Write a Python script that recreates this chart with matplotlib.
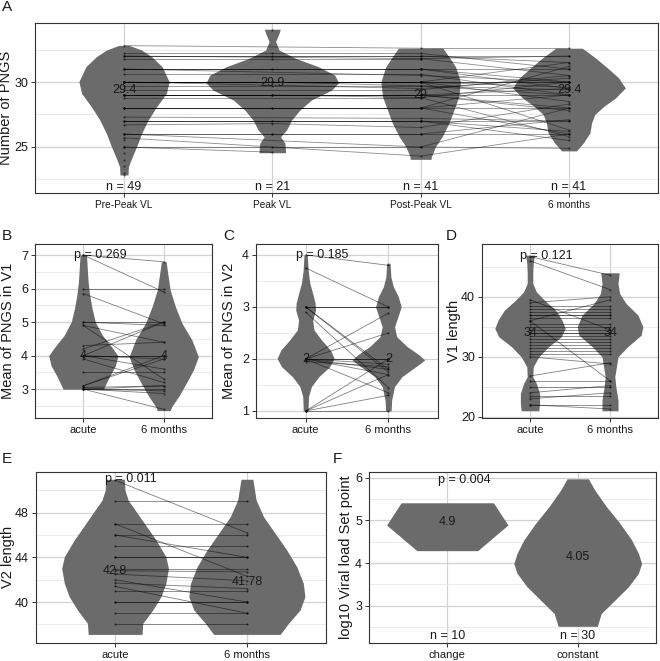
import numpy as np
import matplotlib.pyplot as plt

plt.rcParams['font.family'] = ['Liberation Sans', 'DejaVu Sans']

W, H = 660, 661
VIOLIN = '#6b6b6b'
INK = '#1a1a1a'

# ---------------- panel A: four time points ----------------
A_CATS = ['Pre-Peak VL', 'Peak VL', 'Post-Peak VL', '6 months']
A_N = ['n = 49', 'n = 21', 'n = 41', 'n = 41']
A_CENTER = [29.4, 29.9, 29, 29.4]
A_CENTER_TXT = ['29.4', '29.9', '29', '29.4']

# subject values: pre, peak, post, 6 months (nan = not sampled)
nan = np.nan
A_PRE = [32.8, 32.2, 32.0, 32.0, 32.0, 31.8, 31.0, 31.0, 31.0, 31.0, 30.6, 30.0, 30.0,
         30.0, 30.0, 30.0, 30.0, 30.0, 30.0, 29.7, 29.4, 29.0, 29.0, 29.0, 29.0, 29.0,
         28.8, 28.0, 28.0, 28.0, 28.0, 27.3, 27.0, 27.0, 27.0, 26.7, 26.0, 26.0, 26.0,
         25.7, 25.0, 25.0, 25.0, 24.5, 24.0, 23.5, 23.0, 22.85, 25.5, nan]
A_PEAK = [nan, 32.2, 32.0, nan, nan, 31.8, 31.0, nan, 31.0, nan, nan, 30.0, nan,
          nan, nan, nan, 30.0, nan, nan, 29.7, nan, 29.0, 29.0, nan, nan, 29.0,
          nan, 28.0, 28.0, nan, nan, nan, 27.0, 27.0, nan, 26.8, 26.0, 26.0, nan,
          nan, 25.0, 24.6, nan, nan, nan, nan, nan, nan, nan, 34.0]
A_POST = [32.6, 32.2, 32.0, 32.0, 31.8, 31.8, 31.0, 31.0, 31.0, 30.5, 30.6, 30.0, 30.0,
          30.0, 30.0, 30.0, 29.7, 29.5, 30.0, 29.7, 29.4, 29.0, 29.0, 29.0, 29.0, 28.8,
          28.8, 28.0, 28.0, 28.0, 28.0, 27.2, 27.0, 27.0, 27.0, 26.5, 26.0, 26.0, 25.0,
          24.3, 25.0, nan, nan, nan, nan, nan, nan, nan, nan, nan]
A_M6 = [32.6, 31.0, 32.0, 31.5, 30.5, 32.0, 30.0, 31.0, 29.5, 30.0, 29.0, 30.0, 29.6,
        31.5, 30.0, 28.5, 29.4, 30.3, 26.3, 29.0, 30.5, 29.0, 28.0, 27.8, 29.5, 25.8,
        30.0, 28.0, 29.0, 26.0, 31.2, 27.0, 27.0, 26.2, 25.5, 28.3, 26.0, 27.1, 28.0,
        26.0, 24.9, nan, nan, nan, nan, nan, nan, nan, nan, nan]

# violin outlines: (value, half width in category units)
A_PRE_Y = [32.82, 32.46, 31.95, 31.18, 30.03, 29.13, 28.10, 27.08, 26.05, 25.03, 24.26, 23.49, 22.85]
A_PRE_W = [0.034, 0.119, 0.186, 0.257, 0.304, 0.286, 0.22, 0.163, 0.119, 0.085, 0.056, 0.03, 0.027]
A_PEAK_Y = [34.06, 33.75, 33.11, 32.46, 31.82, 31.18, 30.54, 29.95, 29.38, 28.62, 27.85, 27.08,
            26.31, 25.79, 25.28, 24.56]
A_PEAK_W = [0.054, 0.045, 0.022, 0.045, 0.157, 0.31, 0.42, 0.447, 0.40, 0.264, 0.186, 0.13,
            0.096, 0.055, 0.085, 0.09]
A_POST_Y = [32.6, 31.95, 31.18, 30.03, 28.87, 27.85, 26.82, 25.8, 25.03, 24.26, 24.05]
A_POST_W = [0.15, 0.19, 0.235, 0.268, 0.257, 0.224, 0.19, 0.145, 0.10, 0.072, 0.07]
A_M6_Y = [32.6, 31.84, 31.08, 30.31, 29.54, 28.77, 28.13, 27.5, 26.85, 26.08, 25.3, 24.7]
A_M6_W = [0.09, 0.18, 0.26, 0.335, 0.38, 0.313, 0.235, 0.174, 0.152, 0.141, 0.096, 0.05]

# ---------------- panels B-E: acute vs 6 months ----------------
PAIR_CATS = ['acute', '6 months']

B_ACUTE = [7.0, 7.0, 6.0, 5.85, 5.0, 5.0, 4.9, 4.9, 4.3, 4.2, 4.0, 4.0, 4.0, 4.0, 4.0,
           3.9, 3.5, 3.1, 3.1, 3.0, 3.0, 3.0, 3.0, 3.0, 3.05]
B_M6 = [6.8, 5.9, 6.0, 4.95, 5.0, 4.9, 4.4, 3.3, 4.4, 5.0, 4.0, 4.0, 3.9, 5.0, 3.6,
        3.2, 3.5, 4.0, 3.9, 3.0, 3.1, 2.95, 2.87, 2.4, 3.1]
B_ACUTE_Y = [7.0, 6.6, 6.2, 5.8, 5.4, 5.0, 4.6, 4.3, 4.0, 3.7, 3.4, 3.1, 3.0]
B_ACUTE_W = [0.04, 0.05, 0.06, 0.08, 0.11, 0.15, 0.24, 0.34, 0.43, 0.40, 0.33, 0.27, 0.25]
B_M6_Y = [6.8, 6.45, 5.96, 5.46, 4.97, 4.47, 3.97, 3.58, 3.18, 2.78, 2.48, 2.36]
B_M6_W = [0.03, 0.05, 0.08, 0.145, 0.226, 0.35, 0.43, 0.37, 0.28, 0.185, 0.10, 0.08]

C_ACUTE = [4.0, 3.75, 3.0, 3.0, 3.0, 2.9, 3.0, 2.0, 2.0, 2.0, 2.0, 2.0, 2.0, 2.0,
           1.95, 2.0, 1.0, 1.0, 1.0, 1.0]
C_M6 = [3.8, 3.0, 3.0, 3.0, 1.8, 1.45, 1.75, 2.88, 2.5, 2.0, 2.0, 1.9, 1.8, 1.35,
        1.85, 1.7, 1.0, 1.7, 2.0, 1.3]
C_ACUTE_Y = [4.0, 3.71, 3.46, 3.26, 3.07, 2.94, 2.75, 2.56, 2.37, 2.17, 2.01, 1.85, 1.66,
             1.47, 1.28, 1.08, 1.0]
C_ACUTE_W = [0.02, 0.03, 0.05, 0.085, 0.115, 0.12, 0.085, 0.10, 0.19, 0.30, 0.345, 0.29,
             0.16, 0.07, 0.035, 0.03, 0.03]
C_M6_Y = [3.84, 3.58, 3.39, 3.2, 3.0, 2.81, 2.62, 2.43, 2.24, 2.08, 1.98, 1.85, 1.66, 1.47,
          1.21, 1.0]
C_M6_W = [0.02, 0.03, 0.06, 0.12, 0.155, 0.115, 0.075, 0.10, 0.225, 0.37, 0.44, 0.33,
          0.165, 0.074, 0.04, 0.033]

D_ACUTE = [46.7, 46.0, 39.5, 39.0, 38.0, 37.5, 37.0, 36.0, 36.0, 35.5, 35.0, 34.5, 34.0,
           34.0, 33.5, 33.0, 32.5, 32.0, 31.5, 31.0, 30.5, 30.0, 26.8, 26.0, 25.0, 24.0,
           23.5, 23.0, 22.0, 22.0, 38.5, 37.0, 36.5]
D_M6 = [43.6, 41.2, 34.5, 40.0, 38.0, 37.5, 37.0, 39.5, 26.0, 35.5, 35.0, 34.5, 34.0,
        34.0, 33.5, 33.0, 32.5, 32.0, 31.5, 31.0, 30.5, 28.8, 29.0, 26.0, 25.0, 25.2,
        23.5, 24.0, 22.0, 21.3, 38.5, 37.0, 36.5]
D_ACUTE_Y = [46.94, 45.56, 43.89, 42.22, 40.83, 39.44, 37.78, 36.11, 34.72, 33.33, 31.67,
             30.0, 28.33, 26.67, 25.56, 23.89, 22.22, 21.0]
D_ACUTE_W = [0.055, 0.04, 0.035, 0.035, 0.08, 0.18, 0.32, 0.40, 0.44, 0.39, 0.23, 0.11,
             0.04, 0.035, 0.08, 0.12, 0.12, 0.11]
D_M6_Y = [44.0, 42.22, 40.56, 38.89, 36.94, 35.0, 33.61, 31.67, 30.0, 28.33, 26.67, 25.0,
          22.78, 21.0]
D_M6_W = [0.115, 0.10, 0.12, 0.2, 0.35, 0.41, 0.39, 0.22, 0.10, 0.08, 0.06, 0.073, 0.10, 0.10]

E_ACUTE = [50.9, 49.0, 47.0, 47.0, 46.0, 46.0, 45.0, 44.0, 44.0, 43.0, 42.8, 42.5, 42.0,
           41.7, 41.4, 41.0, 40.0, 40.0, 39.0, 38.0]
E_M6 = [46.2, 49.0, 47.0, 42.3, 46.0, 44.0, 45.0, 44.0, 44.0, 43.0, 42.7, 41.9, 40.0,
        41.2, 39.0, 41.0, 40.0, 40.0, 39.0, 38.0]
E_ACUTE_Y = [50.99, 50.0, 49.1, 48.54, 47.04, 45.55, 44.06, 43.01, 41.67, 40.48, 39.28, 38.09, 37.1]
E_ACUTE_W = [0.07, 0.075, 0.10, 0.134, 0.222, 0.31, 0.385, 0.405, 0.385, 0.348, 0.285, 0.21, 0.204]
E_M6_Y = [50.99, 49.13, 47.64, 46.15, 44.66, 43.16, 41.67, 40.48, 39.28, 38.09, 37.1]
E_M6_W = [0.045, 0.07, 0.126, 0.214, 0.302, 0.378, 0.428, 0.44, 0.403, 0.315, 0.252]

# ---------------- panel F: change vs constant ----------------
F_CATS = ['change', 'constant']
F_N = ['n = 10', 'n = 30']
F_CENTER_TXT = ['4.9', '4.05']
F_CENTER_Y = [4.97, 4.15]
F_CHANGE_Y = [5.41, 4.89, 4.29]
F_CHANGE_W = [0.354, 0.465, 0.233]
F_CONST_Y = [5.97, 5.71, 5.32, 4.93, 4.54, 4.23, 3.99, 3.76, 3.45, 3.13, 2.82, 2.52]
F_CONST_W = [0.082, 0.13, 0.22, 0.323, 0.413, 0.465, 0.49, 0.465, 0.39, 0.284, 0.18, 0.15]


def add_panel(fig, x0, y0, x1, y1):
    """Axes placed by pixel box (left, top, right, bottom)."""
    return fig.add_axes([x0 / W, 1 - y1 / H, (x1 - x0) / W, (y1 - y0) / H])


def style(ax, cats, ylim, major, minor, xsize=8):
    ax.set_xlim(0.4, len(cats) + 0.6)
    ax.set_ylim(*ylim)
    ax.set_xticks(range(1, len(cats) + 1), cats)
    ax.set_yticks(major)
    ax.set_yticks(minor, minor=True)
    ax.grid(which='major', color='#d2d2d2', lw=0.9)
    ax.grid(which='minor', axis='y', color='#e8e8e8', lw=0.6)
    ax.set_axisbelow(True)
    ax.tick_params(which='major', length=3, width=0.7, color='#333333', pad=2)
    ax.tick_params(which='minor', length=0)
    ax.tick_params(axis='x', labelsize=xsize, labelcolor=INK)
    ax.tick_params(axis='y', labelsize=9, labelcolor=INK)
    for sp in ax.spines.values():
        sp.set_color('#333333')
        sp.set_linewidth(0.8)


def violin(ax, pos, ys, ws):
    ys = np.array(ys)
    ws = np.array(ws)
    ax.fill_betweenx(ys, pos - ws, pos + ws, color=VIOLIN, lw=0, zorder=2)


def paired(ax, first, second):
    for a, b in zip(first, second):
        ax.plot([1, 2], [a, b], color='black', alpha=0.5, lw=0.6, zorder=3)
    ax.plot([1] * len(first), first, '.', color='black', ms=1.0, alpha=0.6, zorder=3)
    ax.plot([2] * len(second), second, '.', color='black', ms=1.0, alpha=0.6, zorder=3)


def pval(ax, txt, y):
    ax.annotate(txt, xy=(1, y), xytext=(-7, 0), textcoords='offset points',
                ha='left', va='center', fontsize=9, color=INK, zorder=5)


def ylabel(fig, txt, x, y):
    fig.text(x / W, 1 - y / H, txt, rotation=90, ha='center', va='center',
             fontsize=10.5, color=INK)


def letter(fig, txt, x, y):
    fig.text(x / W, 1 - y / H, txt, ha='left', va='top', fontsize=11, color=INK)


fig = plt.figure(figsize=(W / 100, H / 100), dpi=100)

# ---- A ----
ax = add_panel(fig, 35, 23, 658, 193)
style(ax, A_CATS, (21.46, 34.54), [25, 30], [22.5, 27.5, 32.5], xsize=7.3)
for pos, ys, ws in zip(range(1, 5), [A_PRE_Y, A_PEAK_Y, A_POST_Y, A_M6_Y],
                       [A_PRE_W, A_PEAK_W, A_POST_W, A_M6_W]):
    violin(ax, pos, ys, ws)
for row in zip(A_PRE, A_PEAK, A_POST, A_M6):
    pts = [(i + 1, v) for i, v in enumerate(row) if not np.isnan(v)]
    for (x0, v0), (x1, v1) in zip(pts[:-1], pts[1:]):
        ax.plot([x0, x1], [v0, v1], color='black', alpha=0.45, lw=0.6, zorder=3)
    for x, v in pts:
        ax.plot(x, v, '.', color='black', ms=1.0, alpha=0.6, zorder=3)
for i in range(4):
    ax.text(i + 1, A_CENTER[i], A_CENTER_TXT[i], ha='center', va='center', fontsize=9,
            color=INK, zorder=5)
    ax.text(i + 1, 21.95, A_N[i], ha='center', va='center', fontsize=9, color=INK, zorder=5)
ylabel(fig, 'Number of PNGS', 6, 108)
letter(fig, 'A', 2, 0)

# ---- B ----
ax = add_panel(fig, 35, 244, 212, 418)
style(ax, PAIR_CATS, (2.14, 7.33), [3, 4, 5, 6, 7], [2.5, 3.5, 4.5, 5.5, 6.5])
violin(ax, 1, B_ACUTE_Y, B_ACUTE_W)
violin(ax, 2, B_M6_Y, B_M6_W)
paired(ax, B_ACUTE, B_M6)
pval(ax, 'p = 0.269', 7.0)
ax.text(1, 4.0, '4', ha='center', va='center', fontsize=9, color=INK, zorder=5)
ax.text(2, 4.0, '4', ha='center', va='center', fontsize=9, color=INK, zorder=5)
ylabel(fig, 'Mean of PNGS in V1', 8, 331)
letter(fig, 'B', 2, 229)

# ---- C ----
ax = add_panel(fig, 256, 244, 438, 418)
style(ax, PAIR_CATS, (0.865, 4.21), [1, 2, 3, 4], [1.5, 2.5, 3.5])
violin(ax, 1, C_ACUTE_Y, C_ACUTE_W)
violin(ax, 2, C_M6_Y, C_M6_W)
paired(ax, C_ACUTE, C_M6)
pval(ax, 'p = 0.185', 4.0)
ax.text(1, 2.0, '2', ha='center', va='center', fontsize=9, color=INK, zorder=5)
ax.text(2, 2.0, '2', ha='center', va='center', fontsize=9, color=INK, zorder=5)
ylabel(fig, 'Mean of PNGS in V2', 229, 331)
letter(fig, 'C', 223, 229)

# ---- D ----
ax = add_panel(fig, 482, 244, 658, 418)
style(ax, PAIR_CATS, (19.8, 48.8), [20, 30, 40], [25, 35, 45])
violin(ax, 1, D_ACUTE_Y, D_ACUTE_W)
violin(ax, 2, D_M6_Y, D_M6_W)
paired(ax, D_ACUTE, D_M6)
pval(ax, 'p = 0.121', 46.8)
ax.text(1, 34.0, '34', ha='center', va='center', fontsize=9, color=INK, zorder=5)
ax.text(2, 34.0, '34', ha='center', va='center', fontsize=9, color=INK, zorder=5)
ylabel(fig, 'V1 length', 454, 331)
letter(fig, 'D', 446, 229)

# ---- E ----
ax = add_panel(fig, 36, 472, 326, 643)
style(ax, PAIR_CATS, (36.33, 51.64), [40, 44, 48], [38, 42, 46, 50])
violin(ax, 1, E_ACUTE_Y, E_ACUTE_W)
violin(ax, 2, E_M6_Y, E_M6_W)
paired(ax, E_ACUTE, E_M6)
pval(ax, 'p = 0.011', 51.0)
ax.text(1, 42.8, '42.8', ha='center', va='center', fontsize=9, color=INK, zorder=5)
ax.text(2, 41.78, '41.78', ha='center', va='center', fontsize=9, color=INK, zorder=5)
ylabel(fig, 'V2 length', 8, 557)
letter(fig, 'E', 2, 452)

# ---- F ----
ax = add_panel(fig, 369, 472, 656, 643)
style(ax, F_CATS, (2.13, 6.13), [3, 4, 5, 6], [2.5, 3.5, 4.5, 5.5])
violin(ax, 1, F_CHANGE_Y, F_CHANGE_W)
violin(ax, 2, F_CONST_Y, F_CONST_W)
pval(ax, 'p = 0.004', 5.95)
for i in range(2):
    ax.text(i + 1, F_CENTER_Y[i], F_CENTER_TXT[i], ha='center', va='center', fontsize=9,
            color=INK, zorder=5)
    ax.text(i + 1, 2.3, F_N[i], ha='center', va='center', fontsize=9, color=INK, zorder=5)
ylabel(fig, 'log10 Viral load Set point', 346, 557)
letter(fig, 'F', 333, 452)

fig.savefig('out.png', dpi=100)
